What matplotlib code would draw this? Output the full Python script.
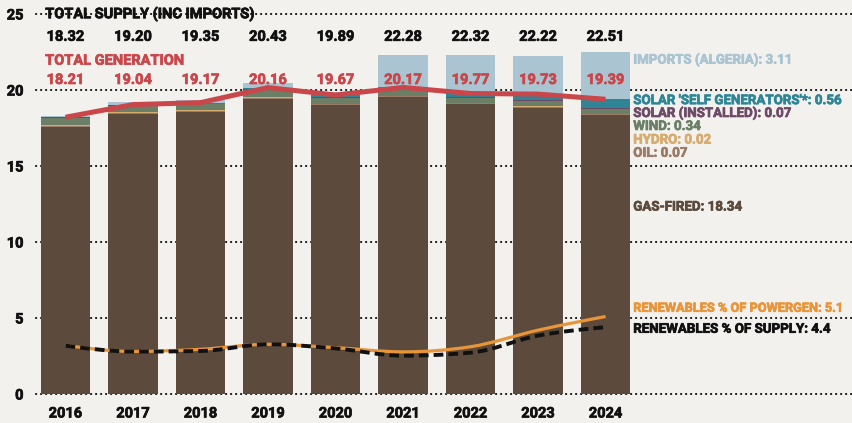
import numpy as np
import matplotlib
matplotlib.use("Agg")
import matplotlib.pyplot as plt
import matplotlib.patheffects as pe
from matplotlib.path import Path
from matplotlib.patches import PathPatch

# ---- data (TWh) ----
years = ["2016", "2017", "2018", "2019", "2020", "2021", "2022", "2023", "2024"]
total_supply = [18.32, 19.20, 19.35, 20.43, 19.89, 22.28, 22.32, 22.22, 22.51]
total_generation = [18.21, 19.04, 19.17, 20.16, 19.67, 20.17, 19.77, 19.73, 19.39]

gas_fired = [17.56, 18.45, 18.55, 19.42, 18.99, 19.57, 19.10, 18.84, 18.34]
oil = [0.07, 0.06, 0.06, 0.08, 0.08, 0.04, 0.06, 0.06, 0.07]
hydro = [0.06, 0.02, 0.05, 0.07, 0.03, 0.02, 0.01, 0.07, 0.02]
wind = [0.49, 0.45, 0.42, 0.44, 0.40, 0.38, 0.32, 0.33, 0.34]
solar_installed = [0.02, 0.03, 0.03, 0.03, 0.04, 0.05, 0.03, 0.07, 0.07]
solar_self = [0.01, 0.03, 0.06, 0.12, 0.13, 0.11, 0.25, 0.36, 0.56]
imports = [0.11, 0.16, 0.18, 0.27, 0.22, 2.11, 2.55, 2.49, 3.11]

renew_pct_gen = [3.20, 2.80, 2.94, 3.27, 3.05, 2.77, 3.11, 4.20, 5.10]
renew_pct_supply = [3.18, 2.79, 2.83, 3.27, 3.00, 2.52, 2.72, 3.84, 4.40]

# ---- style ----
BG = "#f2f1ee"
C_GAS = "#5c4a3c"
C_OIL = "#9c7b66"
C_HYDRO = "#d6ab6e"
C_WIND = "#6b7f66"
C_SOLAR_INST = "#6e4a69"
C_SOLAR_SELF = "#2f8596"
C_IMPORTS = "#aac4d2"
C_GEN = "#c9474b"
C_PCT_GEN = "#e8953a"
C_INK = "#111111"

FONT = "Roboto"
plt.rcParams["font.family"] = [FONT, "DejaVu Sans"]
plt.rcParams["font.weight"] = "bold"


def heavy(color):
    # thicken glyphs slightly with a same-colour outline
    return [pe.withStroke(linewidth=0.5, foreground=color)]


fig = plt.figure(figsize=(8.52, 4.23), dpi=100, facecolor=BG)
ax = fig.add_axes([36 / 852, 29 / 423, 1 - 36 / 852, (394 - 14) / 423])
ax.set_facecolor(BG)

x = np.arange(len(years))
ax.set_xlim(-0.437, 11.65)
ax.set_ylim(0, 25)

# dotted horizontal grid
for yv in range(0, 26, 5):
    ax.plot([-0.437, 11.65], [yv, yv], color=C_INK, lw=1.5,
            linestyle=(0, (0.1, 2.3)), dash_capstyle="round", zorder=0.5,
            clip_on=False)

# stacked bars
layers = [
    (gas_fired, C_GAS),
    (oil, C_OIL),
    (hydro, C_HYDRO),
    (wind, C_WIND),
    (solar_installed, C_SOLAR_INST),
    (solar_self, C_SOLAR_SELF),
    (imports, C_IMPORTS),
]
bottom = np.zeros(len(years))
for vals, col in layers:
    ax.bar(x, vals, bottom=bottom, width=0.73, color=col, linewidth=0, zorder=2)
    bottom += np.array(vals)


def monotone_path(xs, ys):
    """Smooth monotone cubic curve through the points as a Bezier path."""
    xs = np.asarray(xs, float)
    ys = np.asarray(ys, float)
    n = len(xs)
    h = np.diff(xs)
    s = np.diff(ys) / h
    t = np.zeros(n)
    for i in range(1, n - 1):
        if s[i - 1] * s[i] <= 0:
            t[i] = 0.0
        else:
            p = (s[i - 1] * h[i] + s[i] * h[i - 1]) / (h[i - 1] + h[i])
            t[i] = (np.sign(s[i - 1]) + np.sign(s[i])) * min(
                abs(s[i - 1]), abs(s[i]), 0.5 * abs(p))
    t[0] = (3 * s[0] - t[1]) / 2 if n > 2 else s[0]
    t[-1] = (3 * s[-1] - t[-2]) / 2 if n > 2 else s[-1]
    verts = [(xs[0], ys[0])]
    codes = [Path.MOVETO]
    for i in range(n - 1):
        dx = h[i] / 3
        verts += [(xs[i] + dx, ys[i] + dx * t[i]),
                  (xs[i + 1] - dx, ys[i + 1] - dx * t[i + 1]),
                  (xs[i + 1], ys[i + 1])]
        codes += [Path.CURVE4] * 3
    return Path(verts, codes)


# total generation line
ax.plot(x, total_generation, color=C_GEN, lw=3.6, solid_capstyle="butt", zorder=5)

# renewables share lines
ax.add_patch(PathPatch(monotone_path(x, renew_pct_gen), fill=False,
                       edgecolor=C_PCT_GEN, lw=2.3, capstyle="butt", zorder=6))
ax.add_patch(PathPatch(monotone_path(x, renew_pct_supply), fill=False,
                       edgecolor=C_INK, lw=2.8, linestyle=(0, (2.5, 1.3)),
                       capstyle="butt", zorder=7))

# value labels above bars
for xi, s, g in zip(x, total_supply, total_generation):
    ax.text(xi, 23.5, f"{s:.2f}", ha="center", va="center", fontsize=10.5,
            color=C_INK, zorder=8, path_effects=heavy(C_INK))
    ax.text(xi, 20.66, f"{g:.2f}", ha="center", va="center", fontsize=10.5,
            color=C_GEN, zorder=4, path_effects=heavy(C_GEN))

ax.text(-0.3, 25, "TOTAL\u00a0SUPPLY (INC IMPORTS)", ha="left", va="center",
        fontsize=10.5, color=C_INK, zorder=8, path_effects=heavy(C_INK))
ax.text(-0.3, 21.93, "TOTAL GENERATION", ha="left", va="center",
        fontsize=10.5, color=C_GEN, zorder=8, path_effects=heavy(C_GEN))

# series labels on the right
lx = 8.41
right_labels = [
    (21.97, f"IMPORTS (ALGERIA): {imports[-1]:.2f}", C_IMPORTS, 9.6),
    (19.30, f"SOLAR 'SELF GENERATORS'*: {solar_self[-1]:.2f}", C_SOLAR_SELF, 9.6),
    (18.46, f"SOLAR (INSTALLED): {solar_installed[-1]:.2f}", C_SOLAR_INST, 9.6),
    (17.60, f"WIND: {wind[-1]:.2f}", C_WIND, 9.6),
    (16.71, f"HYDRO: {hydro[-1]:.2f}", C_HYDRO, 9.6),
    (15.84, f"OIL: {oil[-1]:.2f}", C_OIL, 9.6),
    (12.30, f"GAS-FIRED: {gas_fired[-1]:.2f}", C_GAS, 9.6),
    (5.64, f"RENEWABLES % OF POWERGEN: {renew_pct_gen[-1]:.1f}", C_PCT_GEN, 9.2),
    (4.26, f"RENEWABLES % OF SUPPLY: {renew_pct_supply[-1]:.1f}", C_INK, 9.6),
]
for yv, txt, col, fs in right_labels:
    ax.text(lx, yv, txt, ha="left", va="center", fontsize=fs, color=col,
            zorder=8, clip_on=False, path_effects=heavy(col))

# axes
ax.set_xticks(x)
ax.set_xticklabels(years)
ax.set_yticks(range(0, 26, 5))
ax.tick_params(length=0, labelsize=10.5, colors=C_INK)
ax.tick_params(axis="x", pad=9)
ax.tick_params(axis="y", pad=9)
for lab in ax.get_xticklabels() + ax.get_yticklabels():
    lab.set_fontweight("bold")
    lab.set_path_effects(heavy(C_INK))
for sp in ax.spines.values():
    sp.set_visible(False)

fig.savefig("out.png", dpi=100, facecolor=BG)
